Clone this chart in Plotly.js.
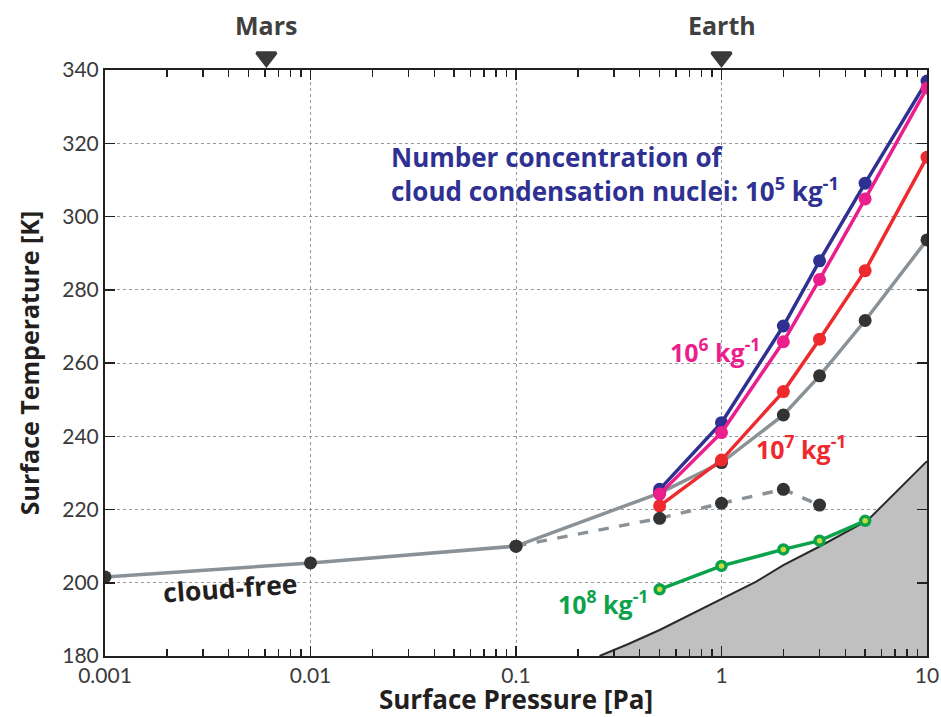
<!DOCTYPE html>
<html>
<head>
<meta charset="utf-8">
<script src="https://cdn.plot.ly/plotly-3.0.1.min.js"></script>
<style>
  html, body { margin: 0; padding: 0; background: #fff; }
  #chart { width: 941px; height: 717px; }
</style>
</head>
<body>
<div id="chart"></div>
<script>
// Surface pressure grid [Pa]
const pressureCloudFree = [0.001, 0.01, 0.1, 0.5, 1, 2, 3, 5, 10];
const tempCloudFree = [201.6, 205.4, 210.0, 224.5, 232.8, 245.8, 256.5, 271.6, 293.6];

// dashed branch leaving the cloud-free curve at 0.1 Pa
const pressureDashed = [0.1, 0.5, 1, 2, 3];
const tempDashed = [210.0, 217.6, 221.7, 225.5, 221.2];

// cloudy runs, by CCN number concentration
const pressureCloudy = [0.5, 1, 2, 3, 5, 10];
const tempCCN5 = [225.5, 243.7, 270.1, 287.9, 309.1, 337.0];
const tempCCN6 = [224.2, 241.0, 265.8, 282.8, 304.8, 335.1];
const tempCCN7 = [221.0, 233.5, 252.2, 266.5, 285.2, 316.2];
const pressureCCN8 = [0.5, 1, 2, 3, 5];
const tempCCN8 = [198.2, 204.6, 209.1, 211.5, 216.9];

// shaded boundary
const pressureBoundary = [0.255, 0.35, 0.5, 0.7, 1, 1.475, 2, 3, 5.13, 10];
const tempBoundary = [180.0, 183.2, 187.1, 191.2, 195.5, 200.3, 204.8, 209.9, 217.0, 233.2];

// reference planets
const planetNames = ['Mars', 'Earth'];
const planetPressure = [0.0061, 1];

// axis ticks
const xTickVals = [0.001, 0.01, 0.1, 1, 10];
const xTickText = ['0.001', '0.01', '0.1', '1', '10'];
const yTickVals = [180, 200, 220, 240, 260, 280, 300, 320, 340];
const yTickText = ['180', '200', '220', '240', '260', '280', '300', '320', '340'];

// minor log ticks: digits 2..9 in every decade
const xMinorVals = [];
for (let e = -3; e < 1; e++) {
  for (let d = 2; d <= 9; d++) xMinorVals.push(d * Math.pow(10, e));
}

const TICKFONT = 'Lato, "Open Sans", sans-serif';
const FONT = '"Open Sans", Lato, sans-serif';
const AXIS_COLOR = '#231f20';
const GRAY = '#8a9298';
const DARK = '#333333';
const BLUE = '#2e3192';
const PINK = '#ec1e8c';
const RED = '#ee2a2e';
const GREEN = '#0ca24c';

// main plot occupies the lower part of the paper; the strip above holds the planet markers
const MAIN_TOP = 586 / 656;

const lineTrace = (x, y, color, markerColor, dash) => ({
  type: 'scatter', mode: 'lines+markers', x, y,
  line: { color, width: 3.5, dash: dash || 'solid' },
  marker: { color: markerColor, size: 13 },
  hoverinfo: 'x+y', showlegend: false
});

// the dashed branch sits on the minor-tick axis (same log scale as the main x axis)
const dashedTrace = lineTrace(pressureDashed, tempDashed, GRAY, DARK, 'dash');
dashedTrace.xaxis = 'x3';

const traces = [
  {
    type: 'scatter', mode: 'lines', x: pressureBoundary, y: tempBoundary,
    fill: 'tozeroy', fillcolor: '#c0c0c0',
    line: { color: '#2b2b2b', width: 2 },
    hoverinfo: 'skip', showlegend: false
  },
  lineTrace(pressureCloudFree, tempCloudFree, GRAY, DARK),
  {
    type: 'scatter', mode: 'lines+markers', x: pressureCCN8, y: tempCCN8,
    line: { color: GREEN, width: 3.5 },
    marker: { color: '#c9dc3c', size: 9, line: { color: GREEN, width: 3.5 } },
    showlegend: false
  },
  lineTrace(pressureCloudy, tempCCN5, BLUE, BLUE),
  lineTrace(pressureCloudy, tempCCN7, RED, RED),
  lineTrace(pressureCloudy, tempCCN6, PINK, PINK),
  dashedTrace,
  {
    type: 'scatter', mode: 'markers', x: planetPressure, y: planetPressure.map(() => 13),
    xaxis: 'x2', yaxis: 'y2',
    marker: { symbol: 'triangle-down', size: 17, color: '#3a3a3a', line: { color: '#3a3a3a', width: 3 } },
    hoverinfo: 'skip', showlegend: false
  }
];

const annotations = planetNames.map((name, i) => ({
  x: Math.log10(planetPressure[i]), xref: 'x2', y: 45, yref: 'y2',
  text: '<b>' + name + '</b>', showarrow: false, xanchor: 'center', yanchor: 'middle',
  font: { family: FONT, size: 25, color: '#404040' }
}));

annotations.push(
  {
    x: -1.6156, y: 311.6, xref: 'x', yref: 'y', xanchor: 'left', yanchor: 'middle', align: 'left',
    text: '<b>Number concentration of<br>cloud condensation nuclei: 10<sup>5</sup> kg<sup>-1</sup></b>',
    showarrow: false, font: { family: FONT, size: 26, color: BLUE }
  },
  {
    x: -0.034, y: 263.5, xref: 'x', yref: 'y', xanchor: 'center', yanchor: 'middle',
    text: '<b>10<sup>6</sup> kg<sup>-1</sup></b>', showarrow: false,
    font: { family: FONT, size: 25, color: PINK }
  },
  {
    x: 0.389, y: 236.8, xref: 'x', yref: 'y', xanchor: 'center', yanchor: 'middle',
    text: '<b>10<sup>7</sup> kg<sup>-1</sup></b>', showarrow: false,
    font: { family: FONT, size: 25, color: RED }
  },
  {
    x: -0.579, y: 194.5, xref: 'x', yref: 'y', xanchor: 'center', yanchor: 'middle',
    text: '<b>10<sup>8</sup> kg<sup>-1</sup></b>', showarrow: false,
    font: { family: FONT, size: 25, color: GREEN }
  },
  {
    x: -2.394, y: 198.6, xref: 'x', yref: 'y', xanchor: 'center', yanchor: 'middle',
    text: '<b>cloud-free</b>', showarrow: false, textangle: -4,
    font: { family: FONT, size: 26.5, color: '#231f20' }
  }
);

const axisCommon = {
  showline: true, linecolor: AXIS_COLOR, linewidth: 2, mirror: 'ticks',
  ticks: 'inside', tickcolor: AXIS_COLOR, tickwidth: 1.5, ticklen: 10,
  showgrid: true, gridcolor: '#9a9a9a', gridwidth: 1, griddash: 'dot',
  zeroline: false,
  tickfont: { family: TICKFONT, size: 21, color: '#3a3a3a' }
};

const layout = {
  width: 941, height: 717,
  margin: { l: 105, r: 14, t: 0, b: 61 },
  paper_bgcolor: '#ffffff', plot_bgcolor: '#ffffff',
  xaxis: Object.assign({}, axisCommon, {
    type: 'log', range: [-3, 1], tickmode: 'array', tickvals: xTickVals, ticktext: xTickText,
    title: { text: '<b>Surface Pressure [Pa]</b>',
             font: { family: FONT, size: 26, color: '#231f20' } }
  }),
  // minor log ticks on bottom and top edges
  xaxis3: {
    type: 'log', range: [-3, 1], overlaying: 'x', anchor: 'y',
    tickmode: 'array', tickvals: xMinorVals, showticklabels: false,
    ticks: 'inside', ticklen: 7, tickwidth: 1.4, tickcolor: AXIS_COLOR, mirror: 'ticks',
    showline: false, showgrid: false, zeroline: false, fixedrange: true
  },
  yaxis: Object.assign({}, axisCommon, {
    domain: [0, MAIN_TOP],
    range: [180, 340], tickmode: 'array', tickvals: yTickVals, ticktext: yTickText,
    title: { text: '<b>Surface Temperature [K]</b>', standoff: 16,
             font: { family: FONT, size: 25, color: '#231f20' } }
  }),
  xaxis2: { type: 'log', range: [-3, 1], anchor: 'y2', visible: false, fixedrange: true },
  yaxis2: { domain: [MAIN_TOP, 1], range: [0, 70], anchor: 'x2', visible: false, fixedrange: true },
  annotations: annotations,
  showlegend: false
};

Plotly.newPlot('chart', traces, layout, { displayModeBar: false, staticPlot: true });
</script>
</body>
</html>
